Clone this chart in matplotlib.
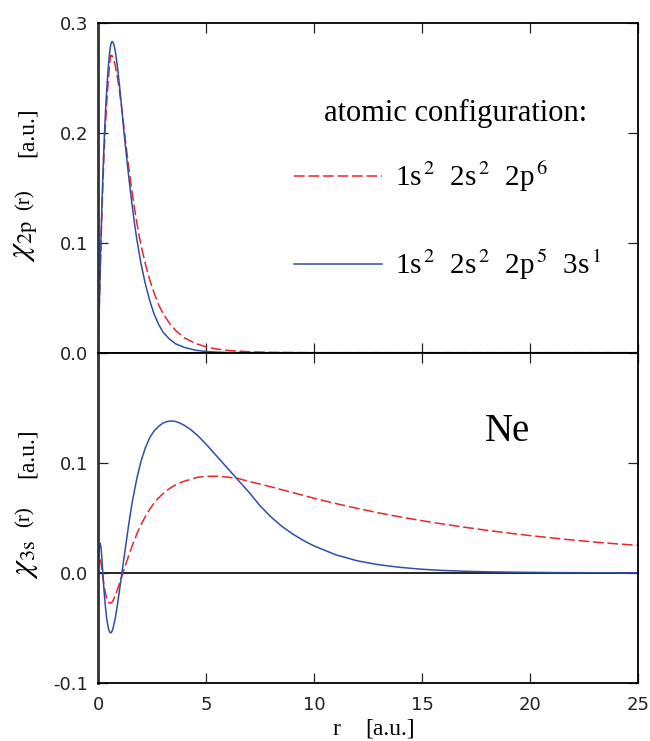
import numpy as np
import matplotlib

# set backend to non GUI
matplotlib.use("Agg")
import matplotlib.pyplot as plt

plt.rcParams["mathtext.fontset"] = "stix"
plt.rcParams["font.family"] = "DejaVu Sans"

SERIF = "Liberation Serif"
RED = "#e8252d"
BLUE = "#2f4fa6"

# 2p radial function, top panel
r_top = [0, 0.05, 0.1, 0.15, 0.2, 0.25, 0.3, 0.35, 0.4, 0.45, 0.5, 0.55, 0.6, 0.65,
         0.7, 0.75, 0.8, 0.9, 1.0, 1.1, 1.2, 1.3, 1.4, 1.5, 1.6, 1.7, 1.8, 1.9, 2.0,
         2.2, 2.4, 2.6, 2.8, 3.0, 3.3, 3.6, 4.0, 4.5, 5.0, 5.5, 6.0, 7.0, 8.0, 10.0,
         15.0, 25.0]
chi2p_ground = [0, 0.032, 0.070, 0.106, 0.138, 0.166, 0.189, 0.209, 0.226, 0.241,
                0.253, 0.265, 0.2705, 0.270, 0.268, 0.265, 0.261, 0.250, 0.237, 0.222,
                0.205, 0.188, 0.172, 0.157, 0.143, 0.130, 0.118, 0.107, 0.097, 0.080,
                0.066, 0.054, 0.044, 0.036, 0.027, 0.020, 0.0135, 0.0085, 0.0053,
                0.0033, 0.0021, 0.0008, 0.0003, 0.0, 0.0, 0.0]
chi2p_excited = [0, 0.036, 0.076, 0.113, 0.146, 0.175, 0.199, 0.220, 0.238, 0.253,
                 0.265, 0.275, 0.281, 0.283, 0.282, 0.279, 0.274, 0.260, 0.242, 0.222,
                 0.201, 0.182, 0.164, 0.147, 0.131, 0.116, 0.103, 0.091, 0.080, 0.062,
                 0.047, 0.035, 0.026, 0.019, 0.0125, 0.008, 0.0048, 0.0023, 0.0011,
                 0.0005, 0.0002, 0.0001, 0.0, 0.0, 0.0, 0.0]

# 3s radial function, bottom panel
r_bot = [0, 0.03, 0.06, 0.1, 0.14, 0.18, 0.22, 0.26, 0.3, 0.35, 0.4, 0.45, 0.5, 0.55,
         0.6, 0.65, 0.7, 0.8, 0.9, 1.0, 1.1, 1.2, 1.3, 1.4, 1.5, 1.6, 1.8, 2.0, 2.2,
         2.4, 2.6, 2.8, 3.0, 3.2, 3.4, 3.6, 3.8, 4.0, 4.3, 4.6, 5.0, 5.5, 6.0, 6.5,
         7.0, 7.5, 8.0, 8.5, 9.0, 9.5, 10, 11, 12, 13, 14, 15, 16, 17, 18, 19, 20,
         21, 22, 23, 24, 25]
chi3s_ground = [0, 0.008, 0.012, 0.0125, 0.009, 0.003, -0.003, -0.009, -0.014, -0.019,
                -0.023, -0.0255, -0.027, -0.0275, -0.0273, -0.0265, -0.025, -0.0205,
                -0.015, -0.0093, -0.0035, 0.0025, 0.0085, 0.0145, 0.020, 0.0255,
                0.0355, 0.044, 0.0515, 0.058, 0.0635, 0.068, 0.0718, 0.075, 0.0778,
                0.080, 0.0818, 0.0833, 0.085, 0.0868, 0.0877, 0.0878, 0.0870, 0.0857,
                0.0830, 0.0807, 0.0782, 0.0756, 0.0730, 0.0704, 0.0678, 0.0630, 0.0586,
                0.0545, 0.0508, 0.0474, 0.0443, 0.0414, 0.0387, 0.0362, 0.0339, 0.0318,
                0.0298, 0.0280, 0.0264, 0.0250]
chi3s_excited = [0, 0.014, 0.023, 0.027, 0.023, 0.013, 0.001, -0.011, -0.021, -0.032,
                 -0.041, -0.047, -0.052, -0.054, -0.0545, -0.053, -0.050, -0.041,
                 -0.029, -0.015, -0.001, 0.013, 0.027, 0.041, 0.054, 0.066, 0.086,
                 0.102, 0.114, 0.123, 0.129, 0.133, 0.136, 0.1375, 0.138, 0.1375,
                 0.136, 0.134, 0.130, 0.125, 0.117, 0.106, 0.095, 0.084, 0.073, 0.061,
                 0.051, 0.0425, 0.0355, 0.0295, 0.0245, 0.0165, 0.011, 0.0074, 0.005,
                 0.0033, 0.0022, 0.0015, 0.001, 0.0007, 0.0005, 0.0003, 0.0002,
                 0.0001, 0.0001, 0.0]

labels = [r"1s$^{\,2}$  2s$^{\,2}$  2p$^{\,6}$",
          r"1s$^{\,2}$  2s$^{\,2}$  2p$^{\,5}$  3s$^{\,1}$"]
x_ticks = [0, 5, 10, 15, 20, 25]

W, H = 650, 741
fig = plt.figure(figsize=(W / 100, H / 100), dpi=100)
ax_top = fig.add_axes([98 / W, 1 - 352.7 / H, 540 / W, 330 / H])
ax_bot = fig.add_axes([98 / W, 1 - 683 / H, 540 / W, 330.3 / H])

dash = (7, 2.5)
red_line, = ax_top.plot(r_top, chi2p_ground, color=RED, lw=1.1, dashes=dash)
blue_line, = ax_top.plot(r_top, chi2p_excited, color=BLUE, lw=1.1)
ax_bot.axhline(0, color="black", lw=1.2, zorder=1)
ax_bot.plot(r_bot, chi3s_ground, color=RED, lw=1.1, dashes=dash)
ax_bot.plot(r_bot, chi3s_excited, color=BLUE, lw=1.1)

for ax in (ax_top, ax_bot):
    ax.set_xlim(0, 25)
    ax.set_xticks(x_ticks)
    ax.tick_params(direction="in", length=7, width=0.9, top=True, right=True,
                   labelsize=13, pad=7, colors="#222222")
    ax.tick_params(axis="x", pad=9)
    for side in ("top", "right", "bottom"):
        ax.spines[side].set_linewidth(1.3)
    ax.spines["left"].set_linewidth(2.0)
    ax.spines["left"].set_color("#333333")

ax_top.set_ylim(0, 0.3)
ax_top.set_yticks([0, 0.1, 0.2, 0.3])
ax_top.set_yticklabels(["0.0", "0.1", "0.2", "0.3"])
ax_top.tick_params(labelbottom=False)

ax_bot.set_ylim(-0.1, 0.2)
ax_bot.set_yticks([-0.1, 0, 0.1, 0.2])
ax_bot.set_yticklabels(["-0.1", "0.0", "0.1", ""])
ax_bot.set_xticklabels([str(t) for t in x_ticks])

# configuration key
ax_top.text(0.663, 0.726, "atomic configuration:", family=SERIF, fontsize=22,
            ha="center", va="center", transform=ax_top.transAxes)
ax_top.legend([red_line, blue_line], labels, loc="upper left",
              bbox_to_anchor=(0.363, 0.585), frameon=False, borderpad=0,
              borderaxespad=0, handlelength=3.0, handletextpad=0.45,
              labelspacing=1.85, prop={"family": SERIF, "size": 21})

ax_bot.text(0.759, 0.76, "Ne", family=SERIF, fontsize=28, ha="center", va="center",
            transform=ax_bot.transAxes)

# axis titles
for sub, y_chi, y_r, y_au in (("2p", 262, 210, 157), ("3s", 579, 527, 478)):
    fig.text(24 / W, 1 - y_chi / H, r"$\chi_{\mathrm{%s}}$" % sub, fontsize=23,
             rotation=90, ha="center", va="bottom")
    fig.text(25 / W, 1 - y_r / H, "(r)", family=SERIF, fontsize=15,
             rotation=90, ha="center", va="bottom")
    fig.text(27 / W, 1 - y_au / H, "[a.u.]", family=SERIF, fontsize=17,
             rotation=90, ha="center", va="bottom")

fig.text(336 / W, 1 - 735 / H, "r", family=SERIF, fontsize=17, ha="center",
         va="baseline")
fig.text(365 / W, 1 - 735 / H, "[a.u.]", family=SERIF, fontsize=17, ha="left",
         va="baseline")

fig.savefig("out.png", dpi=100)
